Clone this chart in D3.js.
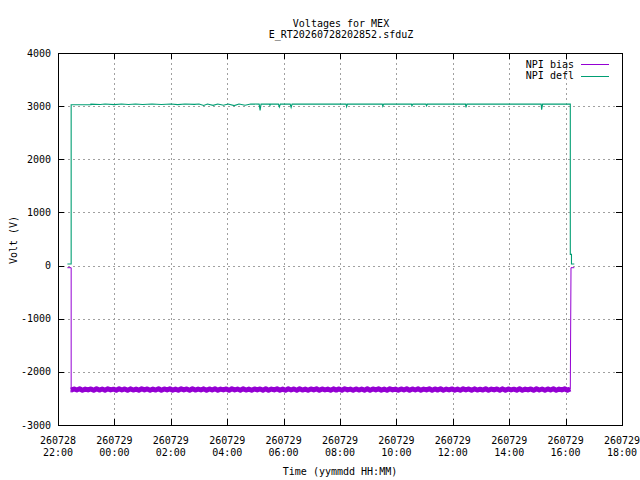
<!DOCTYPE html>
<html><head><meta charset="utf-8">
<script src="https://cdn.jsdelivr.net/npm/d3@7"></script>
<style>
html,body{margin:0;padding:0;background:#fff;}
text{font-family:"DejaVu Sans Mono","Liberation Mono",monospace;font-size:10px;fill:#000;}
</style></head>
<body>
<svg id="chart" width="640" height="480"></svg>
<script>
// ---- data (minutes after 2026-07-28 22:00 local) ----
const titleLines = ["Voltages for MEX", "E_RT20260728202852.sfduZ"];
const yTicks = [-3000, -2000, -1000, 0, 1000, 2000, 3000, 4000];
const seriesNames = ["NPI bias", "NPI defl"];

// NPI defl: [minute, volt]
const deflPoints = [
  [20,30],[28,30],[28,3025],[70,3025],[70,3038],
  [90,3030],[100,3040],[120,3028],[135,3040],[150,3032],[165,3041],[180,3030],
  [200,3040],[220,3031],[240,3040],[255,3029],[270,3040],[290,3033],[300,3040],
  [310,3012],[318,3040],[330,3015],[340,3040],[352,3018],[362,3040],[375,3010],
  [385,3040],[398,3016],[410,3040],
  [428,3038],[430,2920],[432,3038],
  [450,3038],[451,3015],[452,3038],
  [469,3038],[471,2985],[473,3038],
  [494,3038],[496,2975],[498,3038],
  [613,3038],[614,2990],[616,3038],
  [690,3038],[691,2998],[693,3038],
  [752,3038],[753,3005],[755,3038],
  [783,3038],[784,3005],[786,3038],
  [867,3038],[868,2975],[870,3038],
  [1028,3038],[1029,2935],[1031,3038],
  [1090,3038],[1090,210],[1092.5,210],[1092.5,30],[1098.5,30]
];

// NPI bias: lead-in / lead-out points and a dense sampled band (band centre values)
const biasLeadIn = [[20,-40],[28,-40],[28,-2385],[28,-2344]];
const biasStartMin = 28, biasStepMin = 6;
const biasBand = [
-2344,-2322,-2341,-2319,-2346,-2324,-2340,-2321,-2347,-2318,
-2343,-2323,-2345,-2320,-2339,-2325,-2346,-2319,-2341,-2322,
-2348,-2320,-2342,-2324,-2345,-2318,-2340,-2321,-2346,-2323,
-2342,-2318,-2347,-2322,-2340,-2320,-2344,-2325,-2346,-2319,
-2340,-2322,-2346,-2318,-2343,-2324,-2341,-2320,-2347,-2321,
-2342,-2319,-2345,-2324,-2339,-2321,-2348,-2318,-2341,-2323,
-2345,-2320,-2342,-2325,-2346,-2321,-2340,-2322,-2344,-2318,
-2347,-2323,-2340,-2320,-2344,-2324,-2346,-2319,-2341,-2322,
-2345,-2318,-2342,-2324,-2346,-2321,-2340,-2319,-2348,-2322,
-2341,-2325,-2347,-2320,-2343,-2321,-2345,-2318,-2339,-2324,
-2346,-2321,-2342,-2323,-2344,-2319,-2347,-2322,-2340,-2320,
-2344,-2325,-2346,-2318,-2340,-2324,-2346,-2321,-2342,-2318,
-2348,-2322,-2341,-2320,-2345,-2324,-2340,-2319,-2347,-2321,
-2343,-2318,-2345,-2323,-2341,-2321,-2344,-2324,-2346,-2319,
-2339,-2322,-2347,-2320,-2342,-2325,-2343,-2318,-2346,-2323,
-2340,-2321,-2345,-2320,-2347,-2322,-2341,-2325,-2344,-2319,
-2346,-2324,-2340,-2321,-2348,-2318,-2342,-2322,-2345,-2321,
-2342,-2319,-2346,-2324,-2340,-2320,-2344,-2322
];
const biasLeadOut = [[1090,-2330],[1091.5,-40],[1098.5,-40]];

// ---- layout ----
const W = 640, H = 480;
const m = {left:58, right:622, top:53, bottom:425};
const t0 = new Date(2026, 6, 28, 22, 0, 0);
const t1 = new Date(2026, 6, 29, 18, 0, 0);
const tm = mins => new Date(t0.getTime() + mins * 60000);

const x = d3.scaleTime().domain([t0, t1]).range([m.left, m.right]);
const y = d3.scaleLinear().domain([-3000, 4000]).range([m.bottom, m.top]);

const svg = d3.select("#chart");
svg.append("rect").attr("width", W).attr("height", H).attr("fill", "#fff");

const xTicks = d3.timeHour.every(2).range(t0, new Date(t1.getTime() + 1));
const fmtD = d3.timeFormat("%y%m%d"), fmtT = d3.timeFormat("%H:%M");

// grid
const grid = svg.append("g").attr("stroke", "#a0a0a0").attr("stroke-width", 1).attr("stroke-dasharray", "2,3");
xTicks.forEach(t => {
  const px = Math.round(x(t)) + 0.5;
  grid.append("line").attr("x1", px).attr("x2", px).attr("y1", m.top).attr("y2", m.bottom);
});
yTicks.forEach(v => {
  const py = Math.round(y(v)) + 0.5;
  grid.append("line").attr("x1", m.left).attr("x2", m.right).attr("y1", py).attr("y2", py);
});

// data lines
const line = d3.line().x(d => x(tm(d[0]))).y(d => y(d[1]));
const bandPoints = biasBand.map((v, i) => [biasStartMin + i * biasStepMin, v]);
const colors = ["#9400d3", "#009e73"];

svg.append("path").datum(biasLeadIn).attr("d", line)
  .attr("fill", "none").attr("stroke", colors[0]).attr("stroke-width", 1);
svg.append("path").datum(bandPoints).attr("d", line)
  .attr("fill", "none").attr("stroke", colors[0]).attr("stroke-width", 5)
  .attr("stroke-linejoin", "round");
svg.append("path").datum(biasLeadOut).attr("d", line)
  .attr("fill", "none").attr("stroke", colors[0]).attr("stroke-width", 1);
svg.append("path").datum(deflPoints).attr("d", line)
  .attr("fill", "none").attr("stroke", colors[1]).attr("stroke-width", 1.1);

// border
svg.append("rect").attr("x", m.left + 0.5).attr("y", m.top + 0.5)
  .attr("width", m.right - m.left).attr("height", m.bottom - m.top)
  .attr("fill", "none").attr("stroke", "#000").attr("stroke-width", 1);

// ticks (inward, mirrored)
const tk = svg.append("g").attr("stroke", "#000").attr("stroke-width", 1);
const TL = 6;
xTicks.forEach(t => {
  const px = Math.round(x(t)) + 0.5;
  tk.append("line").attr("x1", px).attr("x2", px).attr("y1", m.bottom).attr("y2", m.bottom - TL);
  tk.append("line").attr("x1", px).attr("x2", px).attr("y1", m.top).attr("y2", m.top + TL);
});
yTicks.forEach(v => {
  const py = Math.round(y(v)) + 0.5;
  tk.append("line").attr("x1", m.left).attr("x2", m.left + TL).attr("y1", py).attr("y2", py);
  tk.append("line").attr("x1", m.right).attr("x2", m.right - TL).attr("y1", py).attr("y2", py);
});

// tick labels
yTicks.forEach(v => {
  svg.append("text").attr("x", 51).attr("y", y(v)).attr("dy", "0.35em")
    .attr("text-anchor", "end").text(String(v));
});
xTicks.forEach(t => {
  svg.append("text").attr("x", x(t)).attr("y", 440).attr("dy", "0.35em")
    .attr("text-anchor", "middle").text(fmtD(t));
  svg.append("text").attr("x", x(t)).attr("y", 452.5).attr("dy", "0.35em")
    .attr("text-anchor", "middle").text(fmtT(t));
});

// titles
titleLines.forEach((s, i) => {
  svg.append("text").attr("x", 341).attr("y", 23 + i * 11.5).attr("dy", "0.35em")
    .attr("text-anchor", "middle").text(s);
});
svg.append("text").attr("x", 340).attr("y", 471).attr("dy", "0.35em")
  .attr("text-anchor", "middle").text("Time (yymmdd HH:MM)");
svg.append("text").attr("transform", "translate(13,240) rotate(-90)").attr("dy", "0.35em")
  .attr("text-anchor", "middle").text("Volt (V)");

// legend
seriesNames.forEach((s, i) => {
  const ly = 64 + i * 11.5;
  svg.append("text").attr("x", 574).attr("y", ly).attr("dy", "0.35em")
    .attr("text-anchor", "end").text(s);
  svg.append("line").attr("x1", 581).attr("x2", 609).attr("y1", Math.round(ly) + 0.5).attr("y2", Math.round(ly) + 0.5)
    .attr("stroke", colors[i]).attr("stroke-width", 1);
});
</script>
</body></html>
